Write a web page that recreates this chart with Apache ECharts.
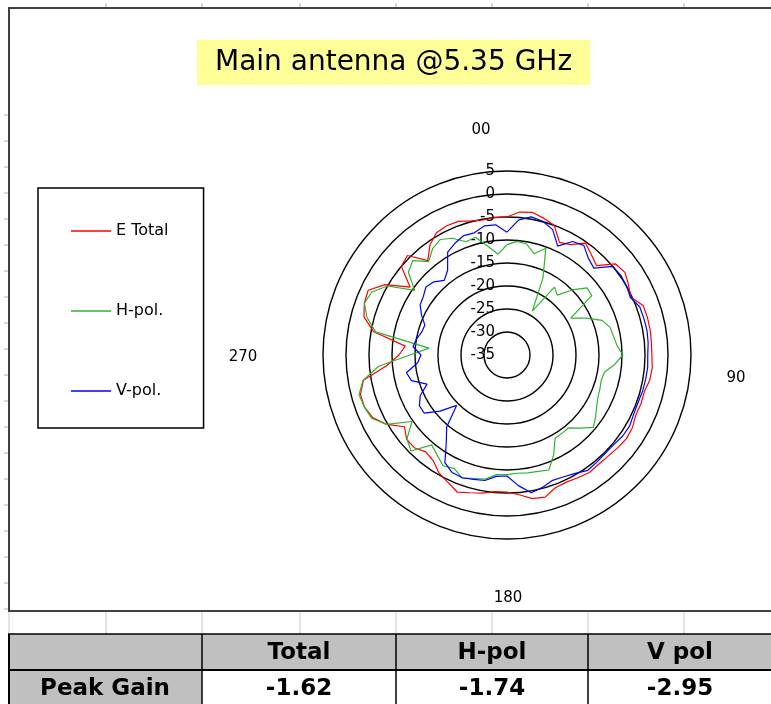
<!DOCTYPE html>
<html>
<head>
<meta charset="utf-8">
<script src="https://cdn.jsdelivr.net/npm/echarts@6/dist/echarts.min.js"></script>
<style>
html,body{margin:0;padding:0;background:#fff;}
#chart{width:771px;height:704px;}
</style>
</head>
<body>
<div id="chart"></div>
<script>
// ---- data ----
const titleText = 'Main antenna @5.35 GHz';
const seriesNames = ['E Total', 'H-pol.', 'V-pol.'];
const angles = [0,5,10,15,20,25,30,35,40,45,50,55,60,65,70,75,80,85,90,95,100,105,110,115,120,125,130,135,140,145,150,155,160,165,170,175,180,185,190,195,200,205,210,215,220,225,230,235,240,245,250,255,260,265,270,275,280,285,290,295,300,305,310,315,320,325,330,335,340,345,350,355];
const eTotal = [-5.0,-3.8,-3.5,-4.2,-5.0,-8.0,-7.3,-5.3,-6.5,-7.5,-4.2,-3.7,-4.5,-5.3,-3.5,-3.4,-3.4,-3.5,-3.5,-3.3,-3.5,-4.1,-4.0,-4.1,-3.5,-3.3,-3.6,-3.9,-4.0,-3.8,-4.2,-4.5,-4.3,-3.0,-3.3,-4.5,-5.2,-5.2,-4.5,-4.0,-3.3,-4.5,-5.4,-7.0,-7.5,-6.5,-6.5,-7.8,-4.8,-2.8,-2.0,-2.0,-3.3,-8.8,-11.5,-12.8,-5.5,-2.8,-2.0,-1.7,-4.4,-9.3,-5.0,-4.4,-8.2,-5.8,-4.3,-4.0,-4.1,-4.8,-5.2,-5.0];
const hPol = [-11.0,-10.2,-10.5,-12.2,-10.3,-16.5,-24.0,-17.0,-18.0,-15.0,-12.3,-12.5,-19.0,-16.0,-13.0,-11.8,-11.5,-11.0,-9.8,-11.5,-13.5,-13.8,-13.5,-13.2,-12.5,-11.5,-10.5,-12.5,-14.3,-14.2,-14.1,-11.0,-8.4,-8.8,-9.0,-9.2,-9.0,-8.9,-7.6,-7.2,-6.5,-7.8,-7.2,-8.5,-9.5,-5.5,-6.6,-9.8,-4.8,-2.5,-2.0,-1.7,-3.2,-7.0,-13.9,-18.0,-6.0,-3.5,-2.0,-2.6,-5.0,-10.5,-7.0,-6.0,-8.5,-6.8,-6.0,-7.0,-8.8,-8.5,-11.0,-13.0];
const vPol = [-8.3,-5.5,-4.5,-4.9,-6.0,-8.9,-6.5,-5.9,-7.5,-8.3,-5.0,-4.8,-5.0,-5.4,-4.3,-4.2,-4.1,-4.2,-4.4,-4.3,-4.4,-4.5,-4.7,-4.6,-4.2,-4.3,-4.7,-4.8,-4.6,-4.4,-5.3,-5.8,-6.0,-5.2,-4.6,-6.5,-8.7,-8.5,-7.3,-7.0,-6.6,-6.8,-8.0,-12.0,-14.6,-19.5,-16.0,-13.0,-13.0,-14.2,-16.5,-13.5,-12.8,-15.5,-16.3,-14.5,-15.0,-15.8,-16.0,-14.5,-13.2,-12.8,-12.0,-12.5,-13.8,-12.5,-9.2,-8.2,-7.4,-7.5,-6.5,-6.6];
const radiusMin = -35, radiusMax = 5, radiusStep = 5;
const angleLabels = ['00', '90', '180', '270'];
const tableHeaders = ['Total', 'H-pol', 'V pol'];
const rowLabel = 'Peak Gain';
const peakGain = ['-1.62', '-1.74', '-2.95'];

// ---- helpers ----
function toPolar(vals) {
  const d = angles.map((a, i) => [vals[i], a]);
  d.push([vals[0], 360]);
  return d;
}
const colors = ['#ff0000', '#2db52d', '#0000ff'];
const FONT = 'DejaVu Sans';

const chart = echarts.init(document.getElementById('chart'), null, {renderer: 'canvas'});

const graphics = [];
// chart frame
graphics.push({type: 'rect', shape: {x: 9, y: 8, width: 800, height: 603}, style: {fill: null, stroke: '#404040', lineWidth: 2}, z: 1});
// spreadsheet gridline stubs
[106, 202, 300, 396, 492, 588, 684].forEach(x => {
  graphics.push({type: 'line', shape: {x1: x, y1: 3, x2: x, y2: 7}, style: {stroke: '#b0b0b0', lineWidth: 1}});
  graphics.push({type: 'line', shape: {x1: x, y1: 612, x2: x, y2: 634}, style: {stroke: '#c8c8c8', lineWidth: 1}});
});
for (let y = 115; y < 610; y += 26) {
  graphics.push({type: 'line', shape: {x1: 4, y1: y, x2: 8, y2: y}, style: {stroke: '#b0b0b0', lineWidth: 1}});
}
graphics.push({type: 'line', shape: {x1: 9, y1: 612, x2: 9, y2: 634}, style: {stroke: '#c8c8c8', lineWidth: 1}});
// angle labels
const anglePos = [[481, 130], [736, 378], [508, 598], [243, 357]];
angleLabels.forEach((t, i) => {
  graphics.push({type: 'text', x: anglePos[i][0], y: anglePos[i][1], style: {text: t, font: '15px "' + FONT + '"', fill: '#000', align: 'center', verticalAlign: 'middle'}});
});
// table
graphics.push({type: 'rect', shape: {x: 8, y: 634, width: 770, height: 36}, style: {fill: '#c0c0c0', stroke: null}});
graphics.push({type: 'rect', shape: {x: 8, y: 670, width: 194, height: 40}, style: {fill: '#c0c0c0', stroke: null}});
graphics.push({type: 'line', shape: {x1: 8, y1: 634, x2: 771, y2: 634}, style: {stroke: '#000', lineWidth: 1.5}});
graphics.push({type: 'line', shape: {x1: 8, y1: 670, x2: 771, y2: 670}, style: {stroke: '#000', lineWidth: 2}});
[9, 202, 396, 588].forEach(x => {
  graphics.push({type: 'line', shape: {x1: x, y1: 634, x2: x, y2: 704}, style: {stroke: '#000', lineWidth: x === 9 ? 2 : 1.5}});
});
const colCenters = [299, 492, 680];
tableHeaders.forEach((t, i) => {
  graphics.push({type: 'text', x: colCenters[i], y: 653, style: {text: t, font: 'bold 23px "' + FONT + '"', fill: '#000', align: 'center', verticalAlign: 'middle'}});
  graphics.push({type: 'text', x: colCenters[i], y: 689, style: {text: peakGain[i], font: 'bold 23px "' + FONT + '"', fill: '#000', align: 'center', verticalAlign: 'middle'}});
});
graphics.push({type: 'text', x: 105, y: 689, style: {text: rowLabel, font: 'bold 23px "' + FONT + '"', fill: '#000', align: 'center', verticalAlign: 'middle'}});

const option = {
  backgroundColor: '#ffffff',
  animation: false,
  title: {
    text: titleText,
    left: 197, top: 40,
    backgroundColor: '#ffff99',
    padding: [8, 18, 8, 18],
    textStyle: {fontFamily: FONT, fontSize: 28, fontWeight: 'normal', color: '#000', lineHeight: 29}
  },
  legend: {
    orient: 'vertical',
    left: 38, top: 188,
    padding: [33, 35, 27, 33],
    borderColor: '#000', borderWidth: 1.5,
    itemWidth: 40, itemHeight: 1.5,
    itemGap: 60,
    icon: 'rect',
    textStyle: {fontFamily: FONT, fontSize: 16, color: '#000', lineHeight: 20},
    data: seriesNames
  },
  polar: {center: [507, 355], radius: 184},
  angleAxis: {
    type: 'value', min: 0, max: 360, startAngle: 90, clockwise: true,
    axisLine: {show: false},
    axisTick: {show: false}, axisLabel: {show: false}, splitLine: {show: false}
  },
  radiusAxis: {
    type: 'value', min: radiusMin, max: radiusMax, interval: radiusStep,
    axisLine: {show: false}, axisTick: {show: false},
    axisLabel: {show: true, margin: 12, fontFamily: FONT, fontSize: 15, color: '#000', showMinLabel: true, showMaxLabel: true},
    splitLine: {show: true, lineStyle: {color: '#000', width: 1.4}}
  },
  series: [
    {name: seriesNames[0], type: 'line', coordinateSystem: 'polar', symbol: 'none', data: toPolar(eTotal), lineStyle: {color: colors[0], width: 1.2}, itemStyle: {color: colors[0]}},
    {name: seriesNames[1], type: 'line', coordinateSystem: 'polar', symbol: 'none', data: toPolar(hPol), lineStyle: {color: colors[1], width: 1.2}, itemStyle: {color: colors[1]}},
    {name: seriesNames[2], type: 'line', coordinateSystem: 'polar', symbol: 'none', data: toPolar(vPol), lineStyle: {color: colors[2], width: 1.2}, itemStyle: {color: colors[2]}}
  ],
  graphic: graphics
};
chart.setOption(option);
</script>
</body>
</html>
